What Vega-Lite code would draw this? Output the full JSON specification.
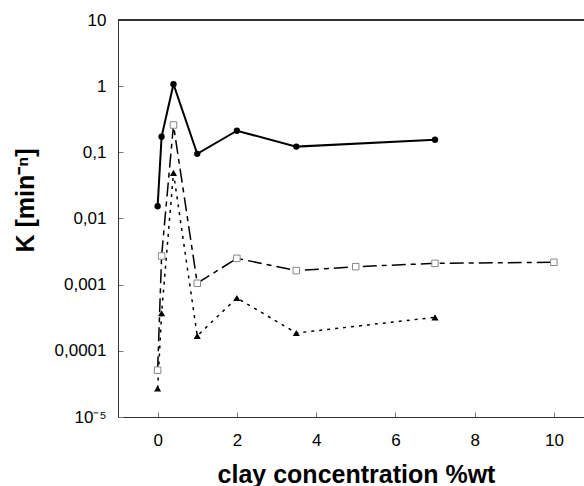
{
  "$schema": "https://vega.github.io/schema/vega-lite/v6.json",
  "width": 466,
  "height": 397,
  "autosize": {"type": "none"},
  "padding": {"left": 118, "top": 20, "right": 0, "bottom": 69},
  "background": "white",
  "config": {"view": {"stroke": null}, "font": "Liberation Sans"},
  "data": {"values": [
    {"s": "A", "x": 0, "k": 0.0153},
    {"s": "A", "x": 0.1, "k": 0.172},
    {"s": "A", "x": 0.4, "k": 1.07},
    {"s": "A", "x": 1, "k": 0.095},
    {"s": "A", "x": 2, "k": 0.212},
    {"s": "A", "x": 3.5, "k": 0.122},
    {"s": "A", "x": 7, "k": 0.155},
    {"s": "B", "x": 0, "k": 0.000051},
    {"s": "B", "x": 0.1, "k": 0.00271},
    {"s": "B", "x": 0.4, "k": 0.259},
    {"s": "B", "x": 1, "k": 0.00105},
    {"s": "B", "x": 2, "k": 0.0025},
    {"s": "B", "x": 3.5, "k": 0.00163},
    {"s": "B", "x": 5, "k": 0.00187},
    {"s": "B", "x": 7, "k": 0.0021},
    {"s": "B", "x": 10, "k": 0.00218},
    {"s": "C", "x": 0, "k": 0.000027},
    {"s": "C", "x": 0.1, "k": 0.00037},
    {"s": "C", "x": 0.4, "k": 0.049},
    {"s": "C", "x": 1, "k": 0.000168},
    {"s": "C", "x": 2, "k": 0.00063},
    {"s": "C", "x": 3.5, "k": 0.000186},
    {"s": "C", "x": 7, "k": 0.000321}
  ]},
  "encoding": {
    "x": {
      "field": "x", "type": "quantitative",
      "scale": {"domain": [-1, 10.76], "nice": false, "zero": false},
      "axis": {
        "values": [0, 2, 4, 6, 8, 10],
        "grid": false,
        "tickSize": -5,
        "labelPadding": 20,
        "labelFontSize": 17,
        "labelColor": "black",
        "domainColor": "#333",
        "tickColor": "#777",
        "title": "clay concentration %wt",
        "titleFontSize": 25,
        "titleFontWeight": "bold",
        "titleColor": "black",
        "titleX": 238,
        "titleY": 65,
        "titleBaseline": "alphabetic",
        "titleAlign": "center"
      }
    },
    "y": {
      "field": "k", "type": "quantitative",
      "scale": {"type": "log", "domain": [0.00001, 10], "nice": false},
      "axis": {
        "values": [0.00001, 0.0001, 0.001, 0.01, 0.1, 1, 10],
        "labelExpr": "datum.value < 0.00005 ? '10⁻⁵' : datum.value < 0.0005 ? '0,0001' : datum.value < 0.005 ? '0,001' : datum.value < 0.05 ? '0,01' : datum.value < 0.5 ? '0,1' : datum.value < 5 ? '1' : '10'",
        "grid": false,
        "tickSize": -5,
        "labelPadding": 17,
        "labelFontSize": 17,
        "labelColor": "black",
        "domainColor": "#333",
        "tickColor": "#777",
        "title": "K [min⁻ⁿ]",
        "titleFontSize": 25,
        "titleFontWeight": "bold",
        "titleColor": "black",
        "titleAngle": -90,
        "titleX": -85,
        "titleY": 180,
        "titleBaseline": "alphabetic",
        "titleAlign": "center"
      }
    }
  },
  "layer": [
    {"mark": {"type": "rule", "color": "#333", "strokeWidth": 1}, "encoding": {"x": null, "y": {"datum": 10}}},
    {"transform": [{"filter": "datum.s === 'A'"}], "mark": {"type": "line", "color": "black", "strokeWidth": 2}},
    {"transform": [{"filter": "datum.s === 'B'"}], "mark": {"type": "line", "color": "black", "strokeWidth": 1.5, "strokeDash": [14, 5, 5, 5]}},
    {"transform": [{"filter": "datum.s === 'C'"}], "mark": {"type": "line", "color": "black", "strokeWidth": 1.5, "strokeDash": [3, 5]}},
    {"transform": [{"filter": "datum.s === 'A'"}], "mark": {"type": "point", "shape": "circle", "filled": true, "color": "black", "size": 40, "opacity": 1}},
    {"transform": [{"filter": "datum.s === 'B'"}], "mark": {"type": "point", "shape": "square", "filled": true, "fill": "white", "stroke": "#888", "strokeWidth": 1, "size": 42, "opacity": 1}},
    {"transform": [{"filter": "datum.s === 'C'"}], "mark": {"type": "point", "shape": "triangle-up", "filled": true, "color": "black", "size": 50, "opacity": 1}}
  ]
}
